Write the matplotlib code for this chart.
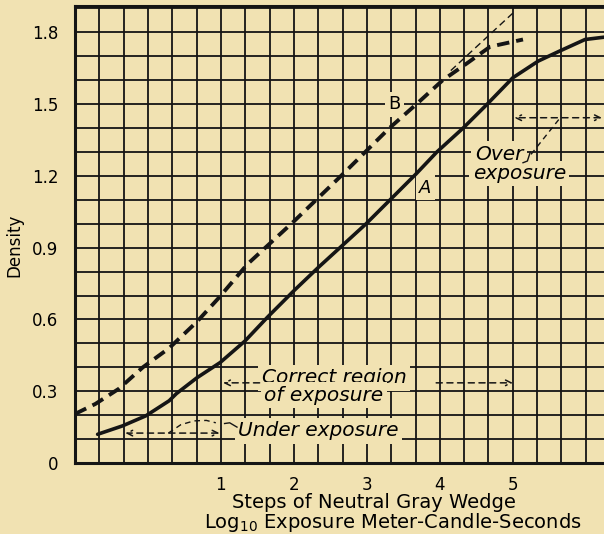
import matplotlib
matplotlib.use("Agg")
import matplotlib.pyplot as plt
import numpy as np

plt.rcParams['font.family'] = ['DejaVu Sans']
plt.rcParams['mathtext.default'] = 'regular'

# ---- data ----
curve_a_x = [-0.69, -0.35, -0.03, 0.29, 0.39, 0.67, 0.99, 1.33, 1.64, 2.0, 2.33, 2.99,
             3.68, 3.96, 4.32, 4.65, 5.0, 5.35, 5.63, 5.99, 6.26]
curve_a_y = [0.12, 0.155, 0.197, 0.26, 0.29, 0.356, 0.42, 0.51, 0.61, 0.72, 0.816, 1.0,
             1.21, 1.30, 1.40, 1.50, 1.61, 1.68, 1.72, 1.77, 1.78]
curve_b_x = [-1.0, -0.72, -0.40, -0.07, 0.29, 0.67, 0.97, 1.36, 2.0, 2.68, 3.31, 3.68,
             4.04, 4.37, 4.69, 5.14]
curve_b_y = [0.205, 0.247, 0.31, 0.40, 0.48, 0.59, 0.69, 0.83, 1.01, 1.21, 1.40, 1.50,
             1.60, 1.67, 1.74, 1.77]
ext_x = [4.15, 5.0]
ext_y = [1.64, 1.88]

x_ticks = [1, 2, 3, 4, 5]
x_tick_labels = ['1', '2', '3', '4', '5']
y_ticks = [0, 0.3, 0.6, 0.9, 1.2, 1.5, 1.8]
y_tick_labels = ['0', '0.3', '0.6', '0.9', '1.2', '1.5', '1.8']

BG = '#f1e2b2'
INK = '#151515'
X0, X1 = -1.0, 6.25
Y0, Y1 = 0.0, 1.91

fig = plt.figure(figsize=(6.04, 5.34), dpi=100, facecolor=BG)
ax = fig.add_axes([75/604, 1-463/534, 1-75/604, (463-6)/534])
ax.set_facecolor(BG)
ax.set_xlim(X0, X1)
ax.set_ylim(Y0, Y1)

# grid
for gx in np.arange(X0, X1, 1/3):
    ax.axvline(gx, color=INK, lw=1.3, zorder=1)
for gy in np.arange(0.1, 1.905, 0.1):
    ax.axhline(gy, color=INK, lw=1.3, zorder=1)

for s in ['left', 'bottom', 'top']:
    ax.spines[s].set_linewidth(2.2)
    ax.spines[s].set_color(INK)
ax.spines['right'].set_visible(False)

ax.set_xticks(x_ticks)
ax.set_xticklabels(x_tick_labels, fontsize=12)
ax.set_yticks(y_ticks)
ax.set_yticklabels(y_tick_labels, fontsize=12)
ax.tick_params(length=0)
ax.tick_params(axis='x', pad=9)
ax.tick_params(axis='y', pad=12)

# curves
ax.plot(curve_a_x, curve_a_y, color=INK, lw=2.6, zorder=5, solid_capstyle='round')
ax.plot(curve_b_x, curve_b_y, color=INK, lw=2.8, ls=(0, (3.2, 1.8)), zorder=5)
ax.plot(ext_x, ext_y, color=INK, lw=1.0, ls=(0, (5, 3)), zorder=5)

bb = dict(facecolor=BG, edgecolor='none', pad=2.5)
ax.text(3.38, 1.50, 'B', fontsize=13, ha='center', va='center', bbox=bb, zorder=4)
ax.text(3.80, 1.15, 'A', fontsize=13, ha='center', va='center', style='italic', bbox=bb, zorder=4)

fs = 14.5
ax.text(1.56, 0.356, 'Correct region', fontsize=fs, style='italic', ha='left', va='center', bbox=bb, zorder=4)
ax.text(1.59, 0.283, 'of exposure', fontsize=fs, style='italic', ha='left', va='center', bbox=bb, zorder=4)
ax.text(1.24, 0.134, 'Under exposure', fontsize=fs, style='italic', ha='left', va='center', bbox=bb, zorder=4)
ax.text(4.48, 1.29, 'Over', fontsize=fs, style='italic', ha='left', va='center', bbox=bb, zorder=4)
ax.text(4.45, 1.21, 'exposure', fontsize=fs, style='italic', ha='left', va='center', bbox=bb, zorder=4)

ap = dict(arrowstyle='->', color=INK, lw=1.1, ls=(0, (4, 3)), shrinkA=0, shrinkB=0)
ap2 = dict(arrowstyle='<->', color=INK, lw=1.1, ls=(0, (4, 3)), shrinkA=0, shrinkB=0)
ax.annotate('', xy=(1.03, 0.335), xytext=(1.53, 0.335), arrowprops=ap, zorder=6)
ax.annotate('', xy=(5.0, 0.335), xytext=(3.95, 0.335), arrowprops=ap, zorder=6)
ax.annotate('', xy=(-0.31, 0.125), xytext=(0.98, 0.125), arrowprops=ap2, zorder=6)
ax.annotate('', xy=(5.02, 1.443), xytext=(6.22, 1.443), arrowprops=ap2, zorder=6)

# leaders
ax.plot([0.28, 0.45, 0.63, 0.80, 0.93], [0.125, 0.16, 0.176, 0.178, 0.168],
        color=INK, lw=1.0, ls=(0, (4, 3)), zorder=6)
ax.plot([1.05, 1.12, 1.22], [0.165, 0.168, 0.150], color=INK, lw=1.0, zorder=6)
ax.plot([5.25, 5.65], [1.29, 1.443], color=INK, lw=1.0, ls=(0, (4, 3)), zorder=6)
ax.plot([5.14, 5.2, 5.24], [1.255, 1.262, 1.30], color=INK, lw=1.0, zorder=6)

fig.text(14/604, 1-245/534, 'Density', rotation=90, fontsize=12, ha='center', va='center')
fig.text(374/604, 1-502/534, 'Steps of Neutral Gray Wedge', fontsize=14, ha='center', va='center')
fig.text(393/604, 1-522/534, 'Log$_{10}$ Exposure Meter-Candle-Seconds', fontsize=14, ha='center', va='center')

fig.savefig('out.png', dpi=100, facecolor=BG)
